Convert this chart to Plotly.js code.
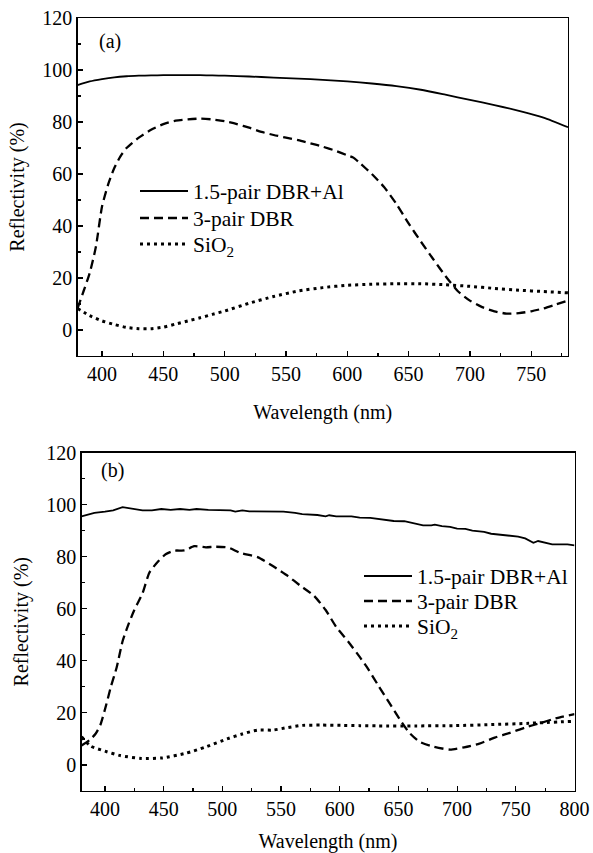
<!DOCTYPE html>
<html>
<head>
<meta charset="utf-8">
<script src="https://cdn.plot.ly/plotly-3.0.1.min.js"></script>
<style>html,body{margin:0;padding:0;background:#fff;}#chart{width:593px;height:853px;}</style>
</head>
<body>
<div id="chart"></div>
<script>
// ---------- Panel (a) ----------
const aAlX = [380,390,400,410,420,430,440,450,460,470,480,490,500,520,540,560,580,600,620,640,660,680,700,720,740,760,780];
const aAlY = [94.2,95.6,96.5,97.2,97.6,97.8,97.9,98.0,98.0,98.0,98.0,97.9,97.8,97.5,97.1,96.7,96.2,95.6,94.8,93.8,92.4,90.5,88.5,86.5,84.3,81.7,78.0];

const aDbrX = [380,385,390,395,400,405,410,415,420,430,440,450,460,470,480,490,500,510,520,530,540,550,560,570,580,590,600,605,610,620,630,640,650,660,670,680,690,700,710,720,730,740,750,760,770,780];
const aDbrY = [8.3,15,22,32,47.5,56,62.3,66.8,70,74,77,79.2,80.5,81,81.3,81,80.3,79.2,77.8,76.2,75,74,73,71.8,70.5,69,67.2,66.3,64.3,60,55,48.5,41,34,27.3,20.8,15,11.3,8.8,7.2,6.3,6.5,7.2,8.3,9.8,11.3];

const aSiX = [380,390,400,410,420,430,440,450,460,470,480,490,500,520,540,560,580,600,620,640,660,680,700,720,740,760,780];
const aSiY = [8.3,5.5,3.5,2.1,1.0,0.5,0.5,1.1,2.3,3.5,4.7,6.0,7.3,10.3,12.9,15.0,16.3,17.2,17.6,17.8,17.8,17.4,16.8,16.0,15.3,14.8,14.3];

// ---------- Panel (b) ----------
const bAlX = [380,385,391,400,407,415,423,432,440,448,456,464,472,478,488,501,507,511,517,523,536,552,562,568,581,588,591,597,610,617,626,633,639,646,655,662,671,678,681,687,694,700,707,713,723,729,739,746,752,758,765,769,776,781,794,800];
const bAlY = [95.5,96.2,96.8,97.3,97.8,99.0,98.3,97.8,97.8,98.3,98.0,98.3,98.0,98.3,98.0,98.0,97.8,97.3,97.8,97.4,97.3,97.3,96.8,96.3,96.0,95.5,95.9,95.5,95.5,95.0,94.9,94.5,94.0,93.7,93.6,93.0,92.0,92.0,92.3,91.7,91.4,90.8,90.7,90.0,89.5,88.8,88.2,87.9,87.7,87.0,85.3,86.0,85.3,84.7,84.7,84.3];

const bDbrX = [380,387,392,396,401,405,410,415,420,425,432,438,446,452,459,468,476,486,494,505,515,530,543,556,566,578,588,597,607,617,624,633,642,651,659,668,680,694,706,719,732,745,758,771,781,790,800];
const bDbrY = [7.5,9.6,12,15.3,23,30,37.5,47.5,54,59.5,66,74,78.5,81,82.3,82.4,84,83.6,83.8,83.5,81.5,79.8,76.4,72.5,69,65,59.5,53,47.5,41.5,37,30.4,24,17.6,12.5,8.9,7,5.9,6.8,8.2,10.5,12.3,14.4,16.1,17.5,18.6,19.5];

const bSiX = [380,388,400,413,431,449,469,485,504,517,530,543,556,568,585,601,617,633,665,697,729,761,800];
const bSiY = [10.8,7.2,5.3,3.6,2.5,2.7,4.5,6.8,10,11.9,13.4,13.4,14.4,15.2,15.3,15.2,15.1,15.0,15.0,15.1,15.5,16.0,16.8];

const seriesNames = ['1.5-pair DBR+Al', '3-pair DBR', 'SiO<sub>2</sub>'];
const panelLabels = ['(a)', '(b)'];
const xTitle = 'Wavelength (nm)';
const yTitle = 'Reflectivity (%)';

const FONT = 'Liberation Serif';
const styles = [
  {color:'#000', width:1.8, dash:'solid'},
  {color:'#000', width:2.3, dash:'9px,5px'},
  {color:'#000', width:3, dash:'3px,4px'}
];

function mk(x, y, i, xa, ya, leg) {
  return {x:x, y:y, type:'scatter', mode:'lines', name:seriesNames[i],
    line:Object.assign({shape:'spline', smoothing:0.6}, styles[i]),
    xaxis:xa, yaxis:ya, legend:leg, hoverinfo:'skip'};
}

const data = [
  mk(aAlX, aAlY, 0, 'x', 'y', 'legend'),
  mk(aDbrX, aDbrY, 1, 'x', 'y', 'legend2'),
  mk(aSiX, aSiY, 2, 'x', 'y', 'legend3'),
  mk(bAlX, bAlY, 0, 'x2', 'y2', 'legend4'),
  mk(bDbrX, bDbrY, 1, 'x2', 'y2', 'legend5'),
  mk(bSiX, bSiY, 2, 'x2', 'y2', 'legend6')
];
// panel b solid is noisy measured data: no smoothing
data[3].line.shape = 'linear';

const W = 593, H = 853;
const F = (s) => ({family:FONT, size:s, color:'#000'});
function xaxis(range, left, right, anchor) {
  return {domain:[left/W, right/W], range:range, anchor:anchor,
    showline:true, mirror:true, linecolor:'#000', linewidth:1.3,
    ticks:'inside', ticklen:5, tickwidth:1.2, tickcolor:'#000',
    dtick:50, tick0:400,
    minor:{ticks:'inside', ticklen:3, tickwidth:1.2, tickcolor:'#000', dtick:25},
    showgrid:false, zeroline:false, automargin:false,
    tickfont:F(20),
    title:{text:xTitle, font:F(20), standoff:20}};
}
function yaxis(top, bottom, anchor) {
  return {domain:[1-bottom/H, 1-top/H], range:[-10,120], anchor:anchor,
    showline:true, mirror:true, linecolor:'#000', linewidth:1.3,
    ticks:'inside', ticklen:5, tickwidth:1.2, tickcolor:'#000',
    dtick:20, tick0:0,
    minor:{ticks:'inside', ticklen:3, tickwidth:1.2, tickcolor:'#000', dtick:10},
    showgrid:false, zeroline:false, automargin:false,
    tickfont:F(20),
    title:{text:yTitle, font:F(20), standoff:12}};
}
function leg(xLeft, yMid) {
  return {x:xLeft/W, y:1-yMid/H, xanchor:'left', yanchor:'middle', bgcolor:'rgba(0,0,0,0)',
    borderwidth:0, font:F(21.5), itemwidth:48};
}

const layout = {
  width:W, height:H, margin:{l:0, r:0, t:0, b:0},
  paper_bgcolor:'#fff', plot_bgcolor:'#fff',
  font:F(20),
  xaxis: xaxis([380,780], 77.5, 568, 'y'),
  yaxis: yaxis(18, 356, 'x'),
  xaxis2: xaxis([380,800], 81.5, 574.5, 'y2'),
  yaxis2: yaxis(452.5, 791, 'x2'),
  legend: leg(135, 191),
  legend2: leg(135, 218),
  legend3: leg(135, 244),
  legend4: leg(359, 576),
  legend5: leg(359, 601),
  legend6: leg(359, 626),
  annotations:[
    {text:panelLabels[0], xref:'paper', yref:'paper', x:110/W, y:1-42/H, xanchor:'center', yanchor:'middle', showarrow:false, font:F(20)},
    {text:panelLabels[1], xref:'paper', yref:'paper', x:112/W, y:1-470/H, xanchor:'center', yanchor:'middle', showarrow:false, font:F(20)}
  ],
  showlegend:true
};

Plotly.newPlot('chart', data, layout, {staticPlot:true, displayModeBar:false});
</script>
</body>
</html>
